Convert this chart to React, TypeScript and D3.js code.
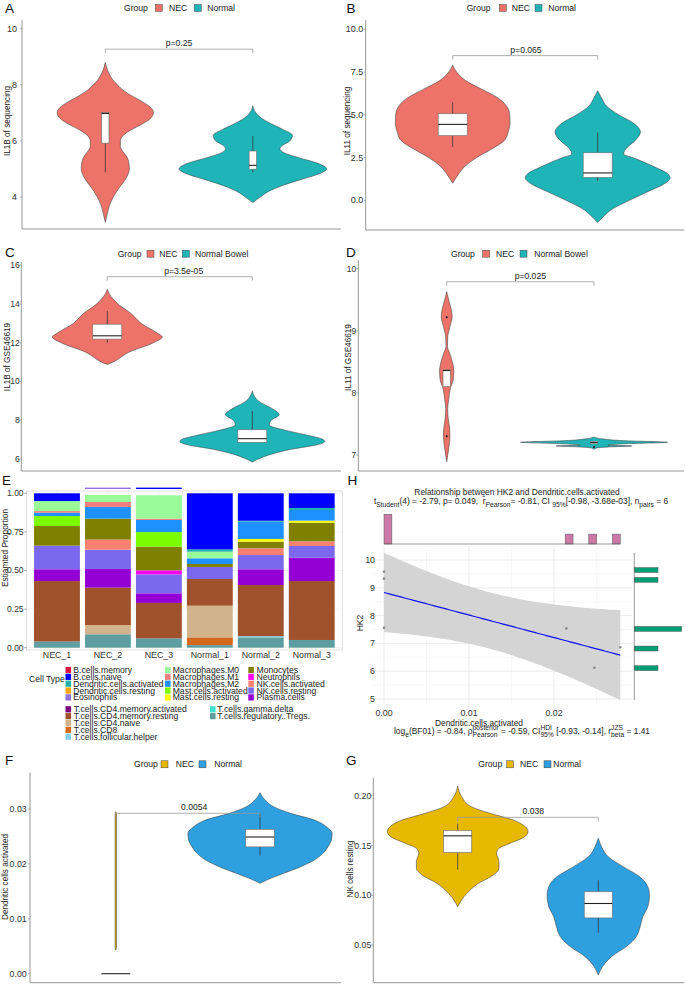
import React, { useEffect, useRef } from "react";
import * as d3 from "d3";

const FONT = "'Liberation Sans', Arial, Helvetica, sans-serif";

// ---------------- groups ----------------
const groupsSeq = ["NEC", "Normal"];
const groupsGse = ["NEC", "Normal Bowel"];

// ---------------- A: IL1B of sequencing ----------------
// violin density profile: [value, relative density]
const il1bSeqNecDensity: [number, number][] = [[8.8,0],[8.5,2.5],[8.2,7],[8.0,12],[7.8,18],[7.6,26.7],[7.4,36.7],[7.2,45],[7.0,48],[6.8,45],[6.6,36.7],[6.4,26],[6.2,18],[6.0,15],[5.8,15],[5.6,18],[5.4,22],[5.2,23.5],[5.0,24],[4.8,22.5],[4.6,19.5],[4.4,15.3],[4.2,11.3],[4.0,8],[3.8,5.3],[3.6,3.3],[3.4,2],[3.1,0]];
const il1bSeqNormalDensity: [number, number][] = [[7.25,0],[7.0,3],[6.8,9],[6.6,19],[6.4,30.5],[6.2,39.5],[6.0,37],[5.85,30],[5.72,27],[5.58,31],[5.4,45.8],[5.2,65],[5.0,73.5],[4.8,64],[4.6,45.8],[4.4,29],[4.2,15.8],[4.0,7.5],[3.8,0]];
// box: [lower whisker, q1, median, q3, upper whisker]
const il1bSeqNecBox = [4.88, 5.92, 6.98, 7.01, 7.01];
const il1bSeqNormalBox = [4.88, 4.99, 5.13, 5.64, 6.18];

// ---------------- B: IL11 of sequencing ----------------
const il11SeqNecDensity: [number, number][] = [[7.9,0],[7.5,4],[7.0,13],[6.5,29],[6.0,45],[5.5,54],[5.0,57],[4.5,57.3],[4.0,55.5],[3.5,51.7],[3.0,39],[2.5,24],[2.0,12.5],[1.5,5.5],[1.0,0]];
const il11SeqNormalDensity: [number, number][] = [[6.4,0],[6.0,3.7],[5.5,9],[5.0,21],[4.5,36],[4.0,42.7],[3.5,37.5],[3.0,28],[2.7,26],[2.5,35],[2.0,55],[1.5,71],[1.3,72.5],[1.0,67.5],[0.5,50],[0.0,31.7],[-0.5,15],[-1.0,5],[-1.3,0]];
const il11SeqNecBox = [3.12, 3.78, 4.44, 5.06, 5.73];
const il11SeqNormalBox = [1.13, 1.34, 1.6, 2.78, 3.97];

// ---------------- C: IL1B of GSE46619 ----------------
const il1bGseNecDensity: [number, number][] = [[14.76,0],[14.5,2.3],[14.0,10.8],[13.5,24],[13.0,34],[12.5,50],[12.3,55],[12.0,46],[11.5,21],[11.0,5.5],[10.88,0]];
const il1bGseNormalDensity: [number, number][] = [[9.5,0],[9.0,6],[8.5,23],[8.3,27],[8.0,19],[7.75,17],[7.5,31.7],[7.25,53],[7.0,71],[6.9,72.5],[6.75,66],[6.5,39],[6.25,19],[6.0,6],[5.84,0]];
const il1bGseNecBox = [12.0, 12.19, 12.36, 12.96, 13.64];
const il1bGseNormalBox = [6.86, 6.86, 7.05, 7.51, 8.48];

// ---------------- D: IL11 of GSE46619 ----------------
const il11GseNecDensity: [number, number][] = [[9.63,0],[9.5,2],[9.35,4.5],[9.23,5.5],[9.07,3.3],[8.9,1],[8.75,0.7],[8.64,3],[8.48,6],[8.36,7.2],[8.2,6.5],[8.1,4.2],[7.89,2],[7.75,1],[7.59,1.5],[7.43,3],[7.3,3.3],[7.1,2],[6.89,0]];
const il11GseNormalDensity: [number, number][] = [[7.29,0],[7.26,8],[7.23,30],[7.205,74],[7.18,30],[7.16,14],[7.145,38],[7.13,15],[7.11,2],[7.09,0]];
const il11GseNecBox = [8.1, 8.1, 8.36, 8.37, 8.37];
const il11GseNormalBox = [7.18, 7.18, 7.2, 7.22, 7.22];
const il11GseNecOutliers = [9.22, 7.3];
const il11GseNormalOutliers = [7.13];

// ---------------- E: CIBERSORT proportions ----------------
const cellTypes = [
  "B.cells.memory", "B.cells.naive", "Dendritic.cells.activated", "Dendritic.cells.resting", "Eosinophils",
  "Macrophages.M0", "Macrophages.M1", "Macrophages.M2", "Mast.cells.activated", "Mast.cells.resting",
  "Monocytes", "Neutrophils", "NK.cells.activated", "NK.cells.resting", "Plasma.cells",
  "T.cells.CD4.memory.activated", "T.cells.CD4.memory.resting", "T.cells.CD4.naive", "T.cells.CD8", "T.cells.follicular.helper",
  "T.cells.gamma.delta", "T.cells.regulatory..Tregs.",
];
const cellColors = [
  "#DC143C", "#0000FF", "#20B2AA", "#FFA500", "#9370DB",
  "#98FB98", "#F08080", "#1E90FF", "#7CFC00", "#FFFF00",
  "#808000", "#FF00FF", "#FA8072", "#7B68EE", "#9400D3",
  "#800080", "#A0522D", "#D2B48C", "#D2691E", "#87CEEB",
  "#40E0D0", "#5F9EA0",
];
const samples = ["NEC_1", "NEC_2", "NEC_3", "Normal_1", "Normal_2", "Normal_3"];
const propNEC1 = [0, 0.05, 0, 0, 0, 0.065, 0.011, 0.021, 0.065, 0, 0.127, 0, 0, 0.153, 0.076, 0, 0.392, 0, 0, 0, 0, 0.04];
const propNEC2 = [0, 0, 0, 0, 0, 0.045, 0.033, 0.075, 0, 0, 0.136, 0, 0.065, 0.125, 0.121, 0, 0.242, 0.06, 0, 0, 0, 0.087];
const propNEC3 = [0, 0, 0, 0, 0, 0.151, 0.009, 0.078, 0.095, 0, 0.153, 0.026, 0, 0.123, 0.062, 0, 0.229, 0, 0, 0, 0, 0.061];
const propNormal1 = [0, 0.363, 0.015, 0, 0, 0.043, 0, 0.037, 0, 0, 0.019, 0, 0, 0.078, 0, 0, 0.173, 0.205, 0.05, 0, 0, 0.017];
const propNormal2 = [0, 0.178, 0.006, 0, 0, 0, 0, 0.112, 0, 0.017, 0.043, 0, 0.044, 0.092, 0.102, 0, 0.331, 0, 0, 0.008, 0, 0.067];
const propNormal3 = [0, 0.095, 0.013, 0, 0, 0, 0, 0.069, 0, 0.013, 0.121, 0, 0.03, 0.076, 0.151, 0, 0.382, 0, 0, 0, 0, 0.05];
const proportions = [propNEC1, propNEC2, propNEC3, propNormal1, propNormal2, propNormal3];
const overflowMarks: [string, string][] = [["NEC_2", "Eosinophils"], ["NEC_3", "B.cells.naive"]];

// ---------------- F: Dendritic cells activated ----------------
const groupsImm = ["NEC", "Normal"];
const dcActNecDensity: [number, number][] = [[0.0295,0],[0.0292,0.7],[0.0048,0.7],[0.0043,0]];
const dcActNormalDensity: [number, number][] = [[0.03298,0],[0.03164,5],[0.03043,13.3],[0.02921,30],[0.028,53.3],[0.02678,65],[0.02557,70.7],[0.02435,70],[0.02314,66.7],[0.02192,61.7],[0.02071,53.3],[0.0195,40],[0.01828,23.3],[0.01707,6.7],[0.01646,0]];
const dcActNecBox = [0, 0, 0, 0, 0];
const dcActNormalBox = [0.0215, 0.0231, 0.0249, 0.0263, 0.0292];

// ---------------- G: NK cells resting ----------------
const nkRestNecDensity: [number, number][] = [[0.2097,0],[0.199,4],[0.189,13.7],[0.1823,32.7],[0.1756,56],[0.1689,68.3],[0.1639,71],[0.1588,67.7],[0.1521,52.7],[0.1471,41.7],[0.1421,39.3],[0.1337,41.7],[0.127,41.7],[0.1203,36],[0.112,21],[0.1019,9.3],[0.0885,0]];
const nkRestNormalDensity: [number, number][] = [[0.1572,0],[0.1488,3.3],[0.1387,10],[0.1287,25],[0.1187,41.7],[0.1086,50],[0.1003,51.7],[0.0885,50],[0.0785,45],[0.0685,42.3],[0.0584,38.3],[0.0484,28.3],[0.0383,13.3],[0.0283,4.3],[0.0199,0]];
const nkRestNecBox = [0.1257, 0.143, 0.1597, 0.165, 0.172];
const nkRestNormalBox = [0.0624, 0.0772, 0.0917, 0.1035, 0.115];

// ---------------- H: HK2 vs Dendritic.cells.activated ----------------
const hk2DcActivated = [0, 0, 0, 0.02145, 0.02475, 0.0278];
const hk2Expression = [9.58, 9.33, 7.56, 7.54, 6.12, 6.86];
const T975_DF4 = 2.776;

const cSalmon = "#ED7369";
const cTeal = "#1FB4B7";
const cGold = "#E7B800";
const cBlue = "#2E9FDF";

type Sel = d3.Selection<any, any, any, any>;

interface ViolinSpec {
  letter: string; letterX: number; letterY: number;
  axisX: number; axisTop: number; axisY: number; axisRight: number;
  centers: [number, number];
  yDomain: [number, number]; yRange: [number, number];
  ticks: number[]; fmt: (v: number) => string; tickFont: number; tickGap: number;
  yTitle: string; yTitleX: number; yTitleY: number;
  legendY: number; legendTitleX: number; legendItems: [number, number][];
  groups: string[]; colors: string[];
  densities: [number, number][][]; boxes: number[][]; outliers?: number[][];
  boxFrac: number; pLabel: string; pY: number; pTextX: number;
}

const fmtInt = (v: number) => d3.format("d")(v);
const fmt1 = (v: number) => d3.format(".1f")(v);
const fmt2 = (v: number) => d3.format(".2f")(v);

const violinSpecs: ViolinSpec[] = [
  { letter: "A", letterX: 5, letterY: 13, axisX: 22, axisTop: 20, axisY: 229, axisRight: 341, centers: [105.3, 252.8],
    yDomain: [4, 10], yRange: [197, 28.7], ticks: [4, 6, 8, 10], fmt: fmtInt, tickFont: 9, tickGap: 5,
    yTitle: "IL1B of sequencing", yTitleX: 7.5, yTitleY: 121, legendY: 8, legendTitleX: 124, legendItems: [[155.3, 169], [194.3, 207.3]],
    groups: groupsSeq, colors: [cSalmon, cTeal], densities: [il1bSeqNecDensity, il1bSeqNormalDensity], boxes: [il1bSeqNecBox, il1bSeqNormalBox],
    boxFrac: 0.05, pLabel: "p=0.25", pY: 9.27, pTextX: 179 },
  { letter: "B", letterX: 346.5, letterY: 13, axisX: 365.7, axisTop: 20, axisY: 230, axisRight: 684, centers: [452.7, 597.7],
    yDomain: [0, 10], yRange: [200.3, 29.3], ticks: [0, 2.5, 5, 7.5, 10], fmt: fmt1, tickFont: 9, tickGap: 2.5,
    yTitle: "IL11 of sequencing", yTitleX: 347, yTitleY: 121, legendY: 8, legendTitleX: 466.7, legendItems: [[499.3, 511.7], [535, 548.3]],
    groups: groupsSeq, colors: [cSalmon, cTeal], densities: [il11SeqNecDensity, il11SeqNormalDensity], boxes: [il11SeqNecBox, il11SeqNormalBox],
    boxFrac: 0.2, pLabel: "p=0.065", pY: 8.46, pTextX: 526 },
  { letter: "C", letterX: 5, letterY: 257, axisX: 21.3, axisTop: 262, axisY: 471, axisRight: 341, centers: [107.3, 252.3],
    yDomain: [6, 16], yRange: [459, 265.3], ticks: [6, 8, 10, 12, 14, 16], fmt: fmtInt, tickFont: 8.5, tickGap: 1.5,
    yTitle: "IL1B of GSE46619", yTitleX: 7, yTitleY: 357, legendY: 253.7, legendTitleX: 117.7, legendItems: [[147, 159.3], [182.3, 195]],
    groups: groupsGse, colors: [cSalmon, cTeal], densities: [il1bGseNecDensity, il1bGseNormalDensity], boxes: [il1bGseNecBox, il1bGseNormalBox],
    boxFrac: 0.2, pLabel: "p=3.5e-05", pY: 15.41, pTextX: 183.7 },
  { letter: "D", letterX: 346, letterY: 257, axisX: 358.3, axisTop: 260, axisY: 471, axisRight: 684, centers: [446.7, 594],
    yDomain: [7, 10], yRange: [455, 268.7], ticks: [7, 8, 9, 10], fmt: fmtInt, tickFont: 8.5, tickGap: 2,
    yTitle: "IL11 of GSE46619", yTitleX: 348.5, yTitleY: 357.5, legendY: 253.7, legendTitleX: 451, legendItems: [[482.7, 496], [520, 534.3]],
    groups: groupsGse, colors: [cSalmon, cTeal], densities: [il11GseNecDensity, il11GseNormalDensity], boxes: [il11GseNecBox, il11GseNormalBox],
    outliers: [il11GseNecOutliers, il11GseNormalOutliers], boxFrac: 0.05, pLabel: "p=0.025", pY: 9.79, pTextX: 530.3 },
  { letter: "F", letterX: 5, letterY: 765, axisX: 30, axisTop: 772.7, axisY: 982.7, axisRight: 341, centers: [115.8, 260],
    yDomain: [0, 0.03], yRange: [973.7, 809], ticks: [0, 0.01, 0.02, 0.03], fmt: fmt2, tickFont: 8.8, tickGap: 3.3,
    yTitle: "Dendritic cells activated", yTitleX: 5, yTitleY: 877, legendY: 764.3, legendTitleX: 134, legendItems: [[161, 175.7], [199, 214.3]],
    groups: groupsImm, colors: [cGold, cBlue], densities: [dcActNecDensity, dcActNormalDensity], boxes: [dcActNecBox, dcActNormalBox],
    boxFrac: 0.2, pLabel: "0.0054", pY: 0.02922, pTextX: 194.2 },
  { letter: "G", letterX: 346, letterY: 765, axisX: 373.3, axisTop: 777.7, axisY: 982.7, axisRight: 684, centers: [457.7, 598.3],
    yDomain: [0.05, 0.2], yRange: [945, 795.7], ticks: [0.05, 0.1, 0.15, 0.2], fmt: fmt2, tickFont: 8.8, tickGap: 2,
    yTitle: "NK cells resting", yTitleX: 350, yTitleY: 869, legendY: 764.3, legendTitleX: 478.3, legendItems: [[506.7, 520], [544, 553.3]],
    groups: groupsImm, colors: [cGold, cBlue], densities: [nkRestNecDensity, nkRestNormalDensity], boxes: [nkRestNecBox, nkRestNormalBox],
    boxFrac: 0.2, pLabel: "0.038", pY: 0.1783, pTextX: 533.3 },
];

function drawViolinPanel(svg: Sel, s: ViolinSpec) {
  const g = svg.append("g");
  const y = d3.scaleLinear().domain(s.yDomain).range(s.yRange);
  const x = d3.scalePoint<string>().domain(s.groups).range(s.centers);
  const step = s.centers[1] - s.centers[0];
  const maxD = d3.max(s.densities.flat(), (d) => d[1]) as number;
  const w = d3.scaleLinear().domain([0, maxD]).range([0, step * 0.5]);

  g.append("text").attr("x", s.letterX).attr("y", s.letterY).attr("font-size", 13.5).attr("fill", "#111").text(s.letter);

  // legend
  const lg = g.append("g").attr("font-size", 8.6).attr("fill", "#222");
  lg.append("text").attr("x", s.legendTitleX).attr("y", s.legendY).attr("dy", "0.35em").text("Group");
  s.groups.forEach((grp, i) => {
    const [sx, tx] = s.legendItems[i];
    lg.append("rect").attr("x", sx).attr("y", s.legendY - 3.5).attr("width", 7).attr("height", 7)
      .attr("fill", s.colors[i]).attr("stroke", "#444").attr("stroke-width", 0.5);
    lg.append("text").attr("x", tx).attr("y", s.legendY).attr("dy", "0.35em").text(grp);
  });

  // axes
  g.append("line").attr("x1", s.axisX).attr("x2", s.axisX).attr("y1", s.axisTop).attr("y2", s.axisY).attr("stroke", "#8a8a8a").attr("stroke-width", 0.9);
  g.append("line").attr("x1", s.axisX).attr("x2", s.axisRight).attr("y1", s.axisY).attr("y2", s.axisY).attr("stroke", "#8a8a8a").attr("stroke-width", 0.9);
  s.ticks.forEach((t) => {
    g.append("line").attr("x1", s.axisX - 2).attr("x2", s.axisX).attr("y1", y(t)).attr("y2", y(t)).attr("stroke", "#8a8a8a").attr("stroke-width", 0.7);
    g.append("text").attr("x", s.axisX - s.tickGap).attr("y", y(t)).attr("dy", "0.35em").attr("text-anchor", "end")
      .attr("font-size", s.tickFont).attr("fill", "#333").text(s.fmt(t));
  });
  g.append("text").attr("transform", `translate(${s.yTitleX},${s.yTitleY}) rotate(-90)`).attr("text-anchor", "middle")
    .attr("dy", "0.35em").attr("font-size", 8.2).attr("fill", "#222").text(s.yTitle);

  // violins + boxes
  s.groups.forEach((grp, i) => {
    const cx = x(grp) as number;
    const area = d3.area<[number, number]>().curve(d3.curveMonotoneY)
      .y((d) => y(d[0])).x0((d) => cx - w(d[1])).x1((d) => cx + w(d[1]));
    g.append("path").attr("d", area(s.densities[i]) as string).attr("fill", s.colors[i]).attr("stroke", "#3c3c3c").attr("stroke-width", 0.55);
    const [lo, q1, med, q3, hi] = s.boxes[i];
    const bw = step * s.boxFrac;
    g.append("line").attr("x1", cx).attr("x2", cx).attr("y1", y(q3)).attr("y2", y(hi)).attr("stroke", "#333").attr("stroke-width", 0.75);
    g.append("line").attr("x1", cx).attr("x2", cx).attr("y1", y(q1)).attr("y2", y(lo)).attr("stroke", "#333").attr("stroke-width", 0.75);
    g.append("rect").attr("x", cx - bw / 2).attr("y", y(q3)).attr("width", bw).attr("height", Math.max(0, y(q1) - y(q3)))
      .attr("fill", "#fff").attr("stroke", "#6a6a6a").attr("stroke-width", 0.6);
    g.append("line").attr("x1", cx - bw / 2).attr("x2", cx + bw / 2).attr("y1", y(med)).attr("y2", y(med)).attr("stroke", "#222").attr("stroke-width", 1.1);
    (s.outliers?.[i] ?? []).forEach((o) => {
      g.append("circle").attr("cx", cx).attr("cy", y(o)).attr("r", 1).attr("fill", "#111");
    });
  });

  // significance bracket
  const by = y(s.pY);
  const [c1, c2] = s.centers;
  g.append("path").attr("d", `M${c1},${by + 4}V${by}H${c2}V${by + 4}`).attr("fill", "none").attr("stroke", "#9a9a9a").attr("stroke-width", 0.8);
  g.append("text").attr("x", s.pTextX).attr("y", by - 3).attr("text-anchor", "middle").attr("font-size", 8.6).attr("fill", "#222").text(s.pLabel);
}

function drawE(svg: Sel) {
  const g = svg.append("g");
  g.append("text").attr("x", 2).attr("y", 485).attr("font-size", 13.5).attr("fill", "#111").text("E");
  const left = 26.4, right = 342.3, top = 491, bottom = 650;
  const x = d3.scaleBand<string>().domain(samples).range([left, right]).paddingInner(0.1).paddingOuter(0.15);
  const y = d3.scaleLinear().domain([0, 1]).range([647.7, 493.3]);
  [0, 0.25, 0.5, 0.75, 1].forEach((v) => {
    g.append("line").attr("x1", left).attr("x2", right).attr("y1", y(v)).attr("y2", y(v)).attr("stroke", "#ececec").attr("stroke-width", 0.6);
  });
  samples.forEach((sm) => {
    const cx = (x(sm) as number) + x.bandwidth() / 2;
    g.append("line").attr("x1", cx).attr("x2", cx).attr("y1", top).attr("y2", bottom).attr("stroke", "#ececec").attr("stroke-width", 0.6);
  });
  g.append("rect").attr("x", left).attr("y", top).attr("width", right - left).attr("height", bottom - top).attr("fill", "none").attr("stroke", "#d8d8d8").attr("stroke-width", 0.8);

  const rows = samples.map((sm, i) => {
    const r: any = { sample: sm };
    cellTypes.forEach((ct, k) => (r[ct] = proportions[i][k]));
    return r;
  });
  const keys = cellTypes.slice().reverse();
  const stack = d3.stack<any>().keys(keys)(rows);
  stack.forEach((layer) => {
    const color = cellColors[cellTypes.indexOf(layer.key)];
    layer.forEach((seg) => {
      const h = y(seg[0]) - y(seg[1]);
      if (h <= 0) return;
      g.append("rect").attr("x", x(seg.data.sample) as number).attr("y", y(seg[1])).attr("width", x.bandwidth()).attr("height", h).attr("fill", color);
    });
  });
  overflowMarks.forEach(([sm, ct]) => {
    g.append("rect").attr("x", x(sm) as number).attr("y", 487.6).attr("width", x.bandwidth()).attr("height", 1.4).attr("fill", cellColors[cellTypes.indexOf(ct)]);
  });

  [0, 0.25, 0.5, 0.75, 1].forEach((v) => {
    g.append("line").attr("x1", left - 2).attr("x2", left).attr("y1", y(v)).attr("y2", y(v)).attr("stroke", "#555").attr("stroke-width", 0.6);
    g.append("text").attr("x", left - 2.8).attr("y", y(v)).attr("dy", "0.35em").attr("text-anchor", "end").attr("font-size", 8.5).attr("fill", "#333").text(fmt2(v));
  });
  samples.forEach((sm) => {
    const cx = (x(sm) as number) + x.bandwidth() / 2;
    g.append("text").attr("x", cx).attr("y", 657.5).attr("text-anchor", "middle").attr("font-size", 8.8).attr("fill", "#333").text(sm);
  });
  g.append("text").attr("transform", "translate(5,548) rotate(-90)").attr("text-anchor", "middle").attr("dy", "0.35em").attr("font-size", 8.4).attr("fill", "#222").text("Estiamted Proportion");

  // legend
  const lg = g.append("g").attr("font-size", 8.6).attr("fill", "#222");
  lg.append("text").attr("x", 29).attr("y", 679).attr("dy", "0.35em").text("Cell Type");
  const rowGap = 6.85;
  const blocks: { start: number; cols: { sw: number; tx: number; idx: number[] }[] }[] = [
    { start: 670, cols: [{ sw: 65.5, tx: 73.3, idx: [0, 1, 2, 3, 4] }, { sw: 165, tx: 172.7, idx: [5, 6, 7, 8, 9] }, { sw: 248.3, tx: 256.5, idx: [10, 11, 12, 13, 14] }] },
    { start: 709.3, cols: [{ sw: 65.5, tx: 73.8, idx: [15, 16, 17, 18, 19] }, { sw: 210, tx: 217.3, idx: [20, 21] }] },
  ];
  blocks.forEach((b) => {
    b.cols.forEach((c) => {
      c.idx.forEach((k, r) => {
        const cy = b.start + r * rowGap;
        lg.append("rect").attr("x", c.sw).attr("y", cy - 3.1).attr("width", 5.6).attr("height", 6.2).attr("fill", cellColors[k]);
        lg.append("text").attr("x", c.tx).attr("y", cy).attr("dy", "0.35em").text(cellTypes[k]);
      });
    });
  });
}

type Rich = { t?: string; sub?: string; sup?: string };
function richText(parent: Sel, segs: Rich[], cx: number, y: number, fs: number) {
  const g = parent.append("g").attr("font-size", fs).attr("fill", "#222");
  let x = 0;
  segs.forEach((s) => {
    if (s.t) {
      const el = g.append("text").attr("x", x).attr("y", y).style("white-space", "pre").text(s.t);
      x += (el.node() as SVGTextElement).getComputedTextLength();
    }
    let w = 0;
    if (s.sup) {
      const el = g.append("text").attr("x", x).attr("y", y - fs * 0.45).attr("font-size", fs * 0.8).style("white-space", "pre").text(s.sup);
      w = Math.max(w, (el.node() as SVGTextElement).getComputedTextLength());
    }
    if (s.sub) {
      const el = g.append("text").attr("x", x).attr("y", y + fs * 0.35).attr("font-size", fs * 0.8).style("white-space", "pre").text(s.sub);
      w = Math.max(w, (el.node() as SVGTextElement).getComputedTextLength());
    }
    x += w;
  });
  g.attr("transform", `translate(${cx - x / 2},0)`);
}

function drawH(svg: Sel) {
  const g = svg.append("g");
  g.append("text").attr("x", 347.5).attr("y", 485).attr("font-size", 13.5).attr("fill", "#111").text("H");

  const xs = hk2DcActivated, ys = hk2Expression, n = xs.length;
  const xm = d3.mean(xs) as number, ym = d3.mean(ys) as number;
  const sxx = d3.sum(xs, (v) => (v - xm) ** 2);
  const sxy = d3.sum(xs.map((v, i) => (v - xm) * (ys[i] - ym)));
  const slope = sxy / sxx, icpt = ym - slope * xm;
  const sse = d3.sum(xs.map((v, i) => (ys[i] - (icpt + slope * v)) ** 2));
  const sd = Math.sqrt(sse / (n - 2));
  const xMin = d3.min(xs) as number, xMax = d3.max(xs) as number;
  const band = d3.range(0, 81).map((i) => {
    const v = xMin + ((xMax - xMin) * i) / 80;
    const fit = icpt + slope * v;
    const se = sd * Math.sqrt(1 / n + (v - xm) ** 2 / sxx);
    return { x: v, fit, lo: fit - T975_DF4 * se, hi: fit + T975_DF4 * se };
  });
  const ciMin = d3.min(band, (d) => d.lo) as number, ciMax = d3.max(band, (d) => d.hi) as number;

  const x = d3.scaleLinear().domain([0, 0.01]).range([384, 469]);
  const y = d3.scaleLinear().domain([5, 10]).range([699, 560]);
  const P = { l: 373, r: 632, t: 546, b: 704 };

  [0.005, 0.015, 0.025].forEach((v) => g.append("line").attr("x1", x(v)).attr("x2", x(v)).attr("y1", P.t).attr("y2", P.b).attr("stroke", "#f2f2f2").attr("stroke-width", 0.6));
  d3.range(5.5, 10.5, 1).forEach((v) => g.append("line").attr("x1", P.l).attr("x2", P.r).attr("y1", y(v)).attr("y2", y(v)).attr("stroke", "#f2f2f2").attr("stroke-width", 0.6));
  [0, 0.01, 0.02].forEach((v) => g.append("line").attr("x1", x(v)).attr("x2", x(v)).attr("y1", P.t).attr("y2", P.b).attr("stroke", "#e6e6e6").attr("stroke-width", 0.8));
  d3.range(5, 10.5, 1).forEach((v) => g.append("line").attr("x1", P.l).attr("x2", P.r).attr("y1", y(v)).attr("y2", y(v)).attr("stroke", "#e6e6e6").attr("stroke-width", 0.8));

  const ribbon = d3.area<any>().x((d) => x(d.x)).y0((d) => y(d.lo)).y1((d) => y(d.hi));
  g.append("path").attr("d", ribbon(band) as string).attr("fill", "#d4d4d4");
  const line = d3.line<any>().x((d) => x(d.x)).y((d) => y(d.fit));
  g.append("path").attr("d", line(band) as string).attr("fill", "none").attr("stroke", "#1010ff").attr("stroke-width", 1.2);
  xs.forEach((v, i) => g.append("circle").attr("cx", x(v)).attr("cy", y(ys[i])).attr("r", 1.3).attr("fill", "#8a8a8a"));

  // axes labels
  d3.range(5, 10.5, 1).forEach((v) => g.append("text").attr("x", 375).attr("y", y(v)).attr("dy", "0.35em").attr("text-anchor", "end").attr("font-size", 8.8).attr("fill", "#333").text(String(v)));
  [0, 0.01, 0.02].forEach((v) => g.append("text").attr("x", x(v)).attr("y", 716).attr("text-anchor", "middle").attr("font-size", 8.8).attr("fill", "#333").text(fmt2(v)));
  g.append("text").attr("transform", "translate(360,623) rotate(-90)").attr("text-anchor", "middle").attr("dy", "0.35em").attr("font-size", 8.6).attr("fill", "#222").text("HK2");
  g.append("text").attr("x", 479).attr("y", 725.5).attr("text-anchor", "middle").attr("font-size", 8.4).attr("fill", "#222").text("Dendritic.cells.activated");

  // marginal histogram top
  const xb = d3.bin().domain([xMin, xMax]).thresholds(d3.range(1, 30).map((i) => xMin + (i * (xMax - xMin)) / 30))(xs);
  const hTop = d3.scaleLinear().domain([0, d3.max(xb, (b) => b.length) as number]).range([0, 29.7]);
  const topBase = 544;
  xb.forEach((b) => {
    if (!b.length) return;
    const h = hTop(b.length);
    g.append("rect").attr("x", x(b.x0 as number)).attr("y", topBase - h).attr("width", x(b.x1 as number) - x(b.x0 as number)).attr("height", h)
      .attr("fill", "#CC79A7").attr("stroke", "#555").attr("stroke-width", 0.5);
  });
  g.append("line").attr("x1", x(xMin)).attr("x2", x(xMax)).attr("y1", topBase).attr("y2", topBase).attr("stroke", "#555").attr("stroke-width", 0.6);

  // marginal histogram right
  const yb = d3.bin().domain([ciMin, ciMax]).thresholds(d3.range(1, 30).map((i) => ciMin + (i * (ciMax - ciMin)) / 30))(ys);
  const wRight = d3.scaleLinear().domain([0, d3.max(yb, (b) => b.length) as number]).range([0, 47.4]);
  const rightBase = 634.3;
  yb.forEach((b) => {
    if (!b.length) return;
    const wv = wRight(b.length);
    g.append("rect").attr("x", rightBase).attr("y", y(b.x1 as number)).attr("width", wv).attr("height", y(b.x0 as number) - y(b.x1 as number))
      .attr("fill", "#009E73").attr("stroke", "#555").attr("stroke-width", 0.5);
  });
  g.append("line").attr("x1", rightBase).attr("x2", rightBase).attr("y1", y(ciMax)).attr("y2", y(ciMin)).attr("stroke", "#555").attr("stroke-width", 0.6);

  // titles
  g.append("text").attr("x", 517).attr("y", 494.5).attr("text-anchor", "middle").attr("font-size", 8.4).attr("fill", "#222").text("Relationship between HK2 and Dendritic.cells.activated");
  richText(g, [
    { t: "t", sub: "Student" }, { t: "(4) = -2.79, p= 0.049,  r\u0302", sub: "Pearson" }, { t: "= -0.81, CI ", sub: "95%" },
    { t: "[-0.98, -3.68e-03], n", sub: "pairs" }, { t: " = 6" },
  ], 521, 504, 8.4);
  richText(g, [
    { t: "log", sub: "e" }, { t: "(BF01) = -0.84, \u03C1", sup: "posterior", sub: "Pearson" }, { t: " = -0.59, CI", sup: "HDI", sub: "95%" },
    { t: " [-0.93, -0.14], r", sup: "JZS", sub: "beta" }, { t: " = 1.41" },
  ], 522, 734, 8.4);
}

export default function App() {
  const ref = useRef<SVGSVGElement>(null);
  useEffect(() => {
    const svg = d3.select(ref.current as SVGSVGElement);
    svg.selectAll("*").remove();
    svg.append("rect").attr("width", 685).attr("height", 985).attr("fill", "#fff");
    violinSpecs.forEach((s) => drawViolinPanel(svg, s));
    drawE(svg);
    drawH(svg);
  }, []);
  return (
    <svg ref={ref} width={685} height={985}
      style={{ position: "absolute", left: 0, top: 0, fontFamily: FONT, whiteSpace: "pre" }} />
  );
}
